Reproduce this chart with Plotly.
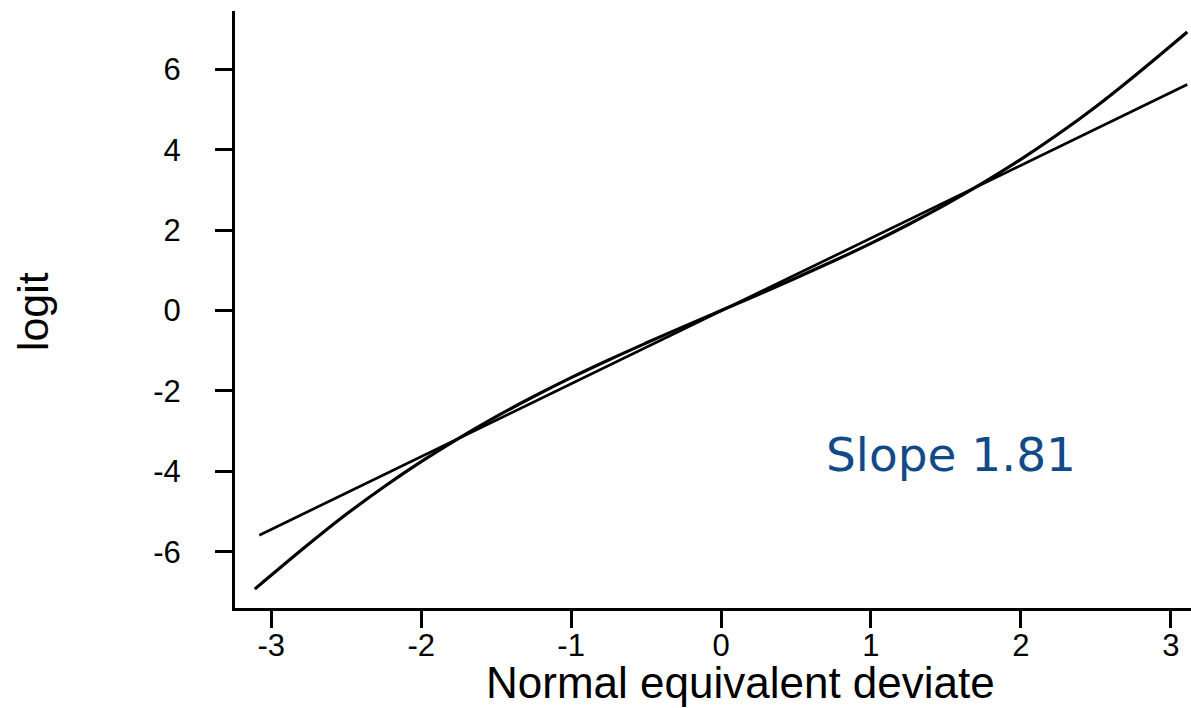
import plotly.graph_objects as go

# Curve: logit vs normal equivalent deviate
curve_x = [-3.11, -2.75, -2.5, -2.25, -2.0, -1.75, -1.5, -1.25, -1.0, -0.75, -0.5, -0.25,
           0.0, 0.25, 0.5, 0.75, 1.0, 1.25, 1.5, 1.75, 2.0, 2.25, 2.5, 2.75, 3.11]
curve_y = [-6.93, -5.81, -5.07, -4.39, -3.76, -3.18, -2.64, -2.14, -1.67, -1.23, -0.81, -0.40,
           0.0, 0.40, 0.81, 1.23, 1.67, 2.14, 2.64, 3.18, 3.76, 4.39, 5.07, 5.81, 6.93]

# Straight line, slope 1.81
line_x = [-3.08, 3.11]
line_y = [-5.59, 5.62]

x_ticks = [-3, -2, -1, 0, 1, 2, 3]
x_tick_labels = ["-3", "-2", "-1", "0", "1", "2", "3"]
y_ticks = [-6, -4, -2, 0, 2, 4, 6]
y_tick_labels = ["-6", "-4", "-2", "0", "2", "4", "6"]

slope_label = "Slope 1.81"

fig = go.Figure()
fig.add_trace(go.Scatter(x=curve_x, y=curve_y, mode="lines", line=dict(color="black", width=3.2, shape="spline"),
                         showlegend=False, hoverinfo="skip"))
fig.add_trace(go.Scatter(x=line_x, y=line_y, mode="lines", line=dict(color="black", width=2.7),
                         showlegend=False, hoverinfo="skip"))

tick_font = dict(family="Liberation Sans, Arial, sans-serif", size=31, color="black")

fig.update_layout(
    width=1191, height=708,
    margin=dict(l=235, r=0, t=11, b=100),
    paper_bgcolor="white", plot_bgcolor="white",
    xaxis=dict(range=[-3.242, 3.135], showgrid=False, zeroline=False, showline=True,
               linecolor="black", linewidth=3, ticks="outside", ticklen=17, tickwidth=3,
               tickcolor="black", tickvals=x_ticks, ticktext=x_tick_labels, tickfont=tick_font,
               ticklabelstandoff=-9),
    yaxis=dict(range=[-7.40, 7.45], showgrid=False, zeroline=False, showline=True,
               linecolor="black", linewidth=3, ticks="outside", ticklen=17, tickwidth=3,
               tickcolor="black", tickvals=y_ticks, ticktext=y_tick_labels, tickfont=tick_font,
               ticklabelstandoff=28),
    annotations=[
        dict(text="Normal equivalent deviate", xref="paper", yref="paper", x=0.529, y=-0.1256,
             xanchor="center", yanchor="middle", showarrow=False,
             font=dict(family="Liberation Sans, Arial, sans-serif", size=44, color="black")),
        dict(text="logit", xref="paper", yref="paper", x=-0.211, y=0.496, textangle=-90,
             xanchor="center", yanchor="middle", showarrow=False,
             font=dict(family="Liberation Sans, Arial, sans-serif", size=43, color="black")),
        dict(text=slope_label, xref="x", yref="y", x=0.69, y=-3.59, xanchor="left", yanchor="middle",
             showarrow=False, font=dict(family="DejaVu Sans, Verdana, sans-serif", size=47, color="#114a86")),
    ],
)

fig.write_html("out.html", config={"displayModeBar": False},
               post_script="document.body.style.margin='0';document.body.style.overflow='hidden';")
